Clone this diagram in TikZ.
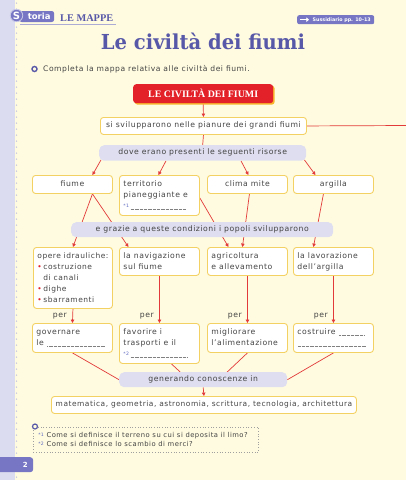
\documentclass[tikz,border=0pt]{standalone}
\usepackage{fontspec}
\setmainfont{DejaVu Sans}[LetterSpace=7]
\newfontfamily\plainfont{DejaVu Sans}
\newfontfamily\titlefont{DejaVu Serif}
\newfontfamily\capfont{Liberation Serif}
\usetikzlibrary{arrows.meta,calc,shadows}
\pgfdeclarelayer{back}
\pgfdeclarelayer{lines}
\pgfsetlayers{back,lines,main}
\definecolor{bg}{HTML}{FFFBE0}
\definecolor{strip}{HTML}{DCDCF0}
\definecolor{dotc}{HTML}{C2C2E2}
\definecolor{lav}{HTML}{DEDEF0}
\definecolor{badge}{HTML}{7676C4}
\definecolor{purp}{HTML}{5858A8}
\definecolor{rd}{HTML}{E32128}
\definecolor{shad}{HTML}{F7B52C}
\definecolor{ln}{HTML}{E23A3A}
\definecolor{yb}{HTML}{F3D162}
\definecolor{tx}{HTML}{444444}
\definecolor{blu}{HTML}{5A66C0}
\definecolor{hline}{HTML}{ABABD6}
\newcommand\bodyf{\fontsize{7.7}{11}\selectfont}
\newcommand\inbox[3]{\parbox[c][#2][t]{#1}{\bodyf\raggedright\rule{0pt}{11.5pt}#3}}
\newcommand\blank[1]{\makebox[#1]{\color{gray}\leaders\hbox to 1.3pt{\hss\rule{0.6pt}{0.45pt}\hss}\hfill}}
\newcommand\fnm[1]{\raisebox{1.2pt}{\color{blu}\fontsize{4.6}{5}\selectfont *#1}}
\newcommand\bul{\makebox[6pt][l]{\color{rd}\textbullet}}
\begin{document}
\begin{tikzpicture}[x=1pt,y=-1pt,
  box/.style={draw=yb, line width=0.9pt, fill=white, rounded corners=3pt, inner sep=0pt, anchor=north west, text=tx},
  box1/.style={box, font=\bodyf, text height=5.6pt, text depth=1.6pt},
  lavbox/.style={fill=lav, rounded corners=5pt, inner sep=0pt, anchor=north west, text=tx, font=\bodyf, text height=5.6pt, text depth=1.6pt},
  arr/.style={draw=ln, line width=0.7pt, -{Triangle[length=3.4pt,width=3.4pt]}},
  conn/.style={draw=ln, line width=0.7pt},
  per/.style={font=\bodyf, text=tx, anchor=east, inner sep=0pt, text height=5.6pt, text depth=1.6pt}
]
\useasboundingbox (0,0) rectangle (406,480);
\begin{pgfonlayer}{back}
\fill[bg] (0,0) rectangle (406,480);
\fill[strip] (0,0) rectangle (15,480);
\foreach \yy in {3,9,...,477} \fill[dotc] (16.5,\yy) circle (0.75);
\end{pgfonlayer}

% header
\draw[hline, line width=1.1pt] (20,24.5) -- (116,24.5);
\node[fill=badge, rounded corners=2.5pt, inner sep=0pt, minimum height=11, minimum width=35, anchor=west, text=white, font=\plainfont\bfseries\fontsize{8.5}{9}\selectfont] (storia) at (19,16.5) {\hspace{5pt}toria};
\node[circle, fill=badge, draw=white!60!badge, line width=0.8pt, minimum size=12.5, inner sep=0pt, text=white, font=\plainfont\bfseries\fontsize{10}{10}\selectfont] (S) at (16.5,15.5) {S};
\node[anchor=base west, text=purp, inner sep=0pt] (mappe) at (60,21) {\resizebox{53pt}{!}{\capfont\bfseries LE MAPPE}};
\node[fill=badge, rounded corners=2pt, minimum width=77, minimum height=9, inner sep=0pt, anchor=north west, text=white] (sus) at (297,15) {\hspace{12pt}\resizebox{58pt}{!}{\plainfont\bfseries Sussidiario pp. 10-13}};
\draw[white, line width=1.4pt, -{Triangle[length=2.6pt,width=4.4pt]}] ($(sus.west)+(3,0)$) -- ($(sus.west)+(12,0)$);
\node[anchor=base, text=purp, inner sep=0pt] (ttl) at (203,49.5) {\resizebox{204pt}{16.5pt}{\titlefont\bfseries Le civiltà dei fiumi}};
\node[circle, draw=purp, line width=1.4pt, minimum size=5pt, inner sep=0pt] (q1) at (34.5,69) {};
\node[anchor=base west, inner sep=0pt, text=tx, font=\fontsize{7.6}{9}\selectfont] (instr) at (43,71.5) {Completa la mappa relativa alle civiltà dei fiumi.};

% map
\node[fill=rd, rounded corners=3pt, minimum width=140, minimum height=19, inner sep=0pt, anchor=north west, text=white, drop shadow={shadow xshift=1.5pt, shadow yshift=-1.5pt, fill=shad, opacity=1}] (title) at (133,84) {\resizebox{110pt}{!}{\capfont\bfseries LE CIVILTÀ DEI FIUMI}};
\node[box1, minimum width=206, minimum height=17] (sv) at (100,117) {si svilupparono nelle pianure dei grandi fiumi};
\coordinate (redge) at (407,125.5);
\node[lavbox, minimum width=207, minimum height=15.5] (dove) at (99,145) {dove erano presenti le seguenti risorse};

\node[box1, minimum width=80, minimum height=18] (fiume) at (32,175) {fiume};
\node[box, minimum width=80, minimum height=40] (terr) at (119,175) {\inbox{72pt}{40pt}{territorio\\pianeggiante~e\\\fnm1\,\blank{57pt}}};
\node[box1, minimum width=80, minimum height=18] (clima) at (207,175) {clima mite};
\node[box1, minimum width=80, minimum height=18] (argilla) at (293,175) {argilla};

\node[lavbox, minimum width=262, minimum height=15] (grazie) at (71,222) {e grazie a queste condizioni i popoli svilupparono};

\node[box, minimum width=79, minimum height=61] (opere) at (33,247) {\inbox{71pt}{61pt}{\fontsize{7.5}{11}\selectfont opere~idrauliche:\\\bul costruzione\\\hspace*{6pt}di~canali\\\bul dighe\\\bul sbarramenti}};
\node[box, minimum width=80, minimum height=28] (nav) at (119,247) {\inbox{72pt}{28pt}{la~navigazione\\sul~fiume}};
\node[box, minimum width=80, minimum height=28] (agri) at (207,247) {\inbox{72pt}{28pt}{agricoltura\\e~allevamento}};
\node[box, minimum width=80, minimum height=28] (lav) at (293,247) {\inbox{72pt}{28pt}{la~lavorazione\\dell’argilla}};

\node[box, minimum width=80, minimum height=29] (gov) at (32,323) {\inbox{72pt}{29pt}{governare\\le~\blank{59pt}}};
\node[box, minimum width=80, minimum height=40] (fav) at (119,323) {\inbox{72pt}{40pt}{favorire~i\\trasporti~e~il\\\fnm2\,\blank{58pt}}};
\node[box, minimum width=80, minimum height=29] (mig) at (207,323) {\inbox{72pt}{29pt}{migliorare\\l’alimentazione}};
\node[box, minimum width=80, minimum height=29] (cost) at (293,323) {\inbox{72pt}{29pt}{costruire~\blank{27pt}\\\blank{70pt}}};

\node[lavbox, minimum width=168, minimum height=15] (gen) at (119,372) {generando conoscenze in};
\node[box1, minimum width=305, minimum height=17, font=\fontsize{7.45}{11}\selectfont] (mat) at (51,396) {matematica, geometria, astronomia, scrittura, tecnologia, architettura};

\node[per] (p1) at ($(gov.north)+(-5.5,-8)$) {per};
\node[per] (p2) at ($(fav.north)+(-5.5,-8)$) {per};
\node[per] (p3) at ($(mig.north)+(-5.5,-8)$) {per};
\node[per] (p4) at ($(cost.north)+(-5.5,-8)$) {per};

% footnotes
\node[draw=gray!75, dotted, line width=0.7pt, anchor=north west, minimum width=225, minimum height=25, inner sep=0pt, text=tx] (note) at (33,427) {\parbox[c][25pt][t]{215pt}{\fontsize{6.8}{9.5}\selectfont\rule{0pt}{10pt}\fnm1 Come si definisce il terreno su cui si deposita il limo?\\\fnm2 Come si definisce lo scambio di merci?}};
\node[circle, draw=purp, fill=bg, line width=1.2pt, minimum size=5pt, inner sep=0pt] (q2) at (35,426.5) {};

\node[fill=badge, rounded corners=3pt, anchor=north west, minimum width=38, minimum height=15, inner sep=0pt, text=white, font=\plainfont\bfseries\fontsize{7}{8}\selectfont] (pg) at (-5,457) {\hspace*{22pt}2};

\begin{pgfonlayer}{lines}
\draw[arr] (title.south) -- (sv.north);
\draw[conn] (sv.east) -- (redge);
\draw[conn] (sv.south) -- (dove.north);
\draw[arr] ($(dove.south west)+(2,-1)$) -- ($(fiume.north)+(20,0)$);
\draw[arr] ($(dove.south west)+(67,0)$) -- ($(terr.north)+(-1,0)$);
\draw[arr] ($(dove.south west)+(142,0)$) -- ($(clima.north)+(1,0)$);
\draw[arr] ($(dove.south east)+(-2,-1)$) -- ($(argilla.north)+(-18,0)$);
\draw[arr] ($(fiume.south)+(20,0)$) -- (opere.north);
\draw[arr] ($(fiume.south)+(20,0)$) -- ($(nav.north)+(-31,0)$);
\draw[arr] ($(terr.north east)+(0,23)$) -- ($(agri.north)+(-19,0)$);
\draw[arr] ($(clima.south)+(2,0)$) -- ($(agri.north)+(-5,0)$);
\draw[arr] ($(argilla.south)+(-10,0)$) -- ($(lav.north)+(-20,0)$);
\draw[arr] (opere.south) -- (gov.north);
\draw[arr] (nav.south) -- (fav.north);
\draw[arr] (agri.south) -- (mig.north);
\draw[arr] (lav.south) -- (cost.north);
\draw[conn] (gov.south) -- (gen.west);
\draw[conn] ($(fav.south)+(12,0)$) -- ($(gen.north)+(-23,0)$);
\draw[conn] (mig.south) -- ($(gen.north)+(24,0)$);
\draw[conn] (cost.south) -- (gen.east);
\draw[arr] (gen.south) -- (mat.north);
\end{pgfonlayer}
\end{tikzpicture}
\end{document}
